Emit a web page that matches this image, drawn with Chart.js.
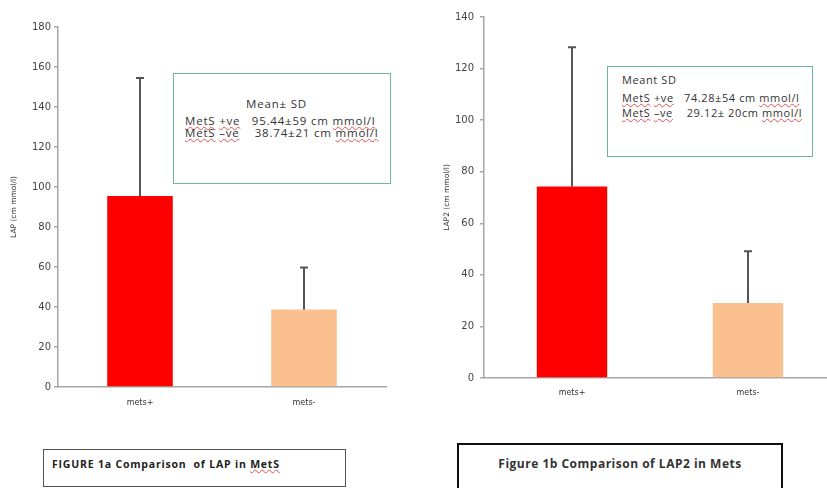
<!DOCTYPE html>
<html>
<head>
<meta charset="utf-8">
<script src="https://cdn.jsdelivr.net/npm/chart.js@4/dist/chart.umd.min.js"></script>
<style>
  html, body { margin: 0; padding: 0; background: #fff; }
  body { width: 827px; height: 488px; overflow: hidden; position: relative; font-family: "Open Sans", Lato, sans-serif; }
  canvas { position: absolute; }
  .box { position: absolute; box-sizing: border-box; background: #fff; color: #333; }
  .wavy { text-decoration: underline wavy #e05050; text-decoration-thickness: 1px; text-underline-offset: 1px; }
  .line { white-space: pre; position: absolute; line-height: 13px; }
</style>
</head>
<body>
<canvas id="c1" width="400" height="420" style="left:0;top:0;"></canvas>
<canvas id="c2" width="430" height="410" style="left:420px;top:0;"></canvas>

<div class="box" style="left:173px;top:73px;width:218px;height:111px;border:1.5px solid #6bb89c;font-size:11.5px;letter-spacing:0.8px;">
  <div class="line" style="left:0;width:205px;text-align:center;top:23px;">Mean± SD</div>
  <div class="line" style="left:11px;top:40px;"><span class="wavy">MetS</span> <span class="wavy">+ve</span>   95.44±59 cm <span class="wavy">mmol/l</span></div>
  <div class="line" style="left:11px;top:52px;"><span class="wavy">MetS</span> <span class="wavy">–ve</span>    38.74±21 cm <span class="wavy">mmol/l</span></div>
</div>

<div class="box" style="left:607px;top:66px;width:206px;height:91px;border:1.5px solid #6bb89c;font-size:11px;letter-spacing:0.6px;">
  <div class="line" style="left:14px;top:6px;">Meant SD</div>
  <div class="line" style="left:14px;top:24px;"><span class="wavy">MetS</span> <span class="wavy">+ve</span>   74.28±54 cm <span class="wavy">mmol/l</span></div>
  <div class="line" style="left:14px;top:39px;"><span class="wavy">MetS</span> <span class="wavy">–ve</span>    29.12± 20cm <span class="wavy">mmol/l</span></div>
</div>

<div class="box" style="left:43px;top:449px;width:303px;height:38px;border:1.5px solid #555;font-size:10.5px;font-weight:bold;color:#222;letter-spacing:0.8px;">
  <div class="line" style="left:8px;top:8px;">FIGURE 1a Comparison  of LAP in <span class="wavy">MetS</span></div>
</div>

<div class="box" style="left:457px;top:443px;width:326px;height:60px;border:2px solid #111;font-size:12px;font-weight:bold;color:#333;letter-spacing:0.5px;">
  <div class="line" style="left:0;width:322px;text-align:center;top:12px;">Figure 1b Comparison of LAP2 in Mets</div>
</div>

<script>
const categories = ['mets+', 'mets-'];
const lapMeans = [95.44, 38.74];
const lapSD = [59, 21];
const lap2Means = [74.28, 29.12];
const lap2SD = [54, 20];
const barColors = ['#ff0000', '#fac090'];
const lapAxisMax = 180;
const lap2AxisMax = 140;
const tickStep = 20;

Chart.defaults.animation = false;
const FONT = "'DejaVu Sans', Verdana, sans-serif";

const errorBars = {
  id: 'errorBars',
  afterDatasetsDraw(chart, args, opts) {
    const ctx = chart.ctx;
    const meta = chart.getDatasetMeta(0);
    const yScale = chart.scales.y;
    const sd = opts.sd;
    const means = chart.data.datasets[0].data;
    ctx.save();
    ctx.strokeStyle = '#555';
    ctx.lineWidth = 2;
    meta.data.forEach((bar, i) => {
      const yTop = yScale.getPixelForValue(means[i] + sd[i]);
      ctx.beginPath();
      ctx.moveTo(bar.x, bar.y);
      ctx.lineTo(bar.x, yTop);
      ctx.moveTo(bar.x - 4, yTop);
      ctx.lineTo(bar.x + 4, yTop);
      ctx.stroke();
    });
    ctx.restore();
  }
};

function makeChart(id, means, sd, max, yTitle, yWidth, xHeight, pad, tickPad, titlePad, xPad) {
  return new Chart(document.getElementById(id), {
    type: 'bar',
    data: {
      labels: categories,
      datasets: [{ data: means, backgroundColor: barColors, borderWidth: 0,
        categoryPercentage: 0.8, barPercentage: 0.5 }]
    },
    options: {
      responsive: false,
      devicePixelRatio: 1,
      layout: { padding: pad },
      plugins: { legend: { display: false }, tooltip: { enabled: false }, errorBars: { sd: sd } },
      scales: {
        x: {
          grid: { display: false, drawTicks: false },
          border: { display: true, color: '#a6a6a6', width: 1.5 },
          ticks: { color: '#333', font: { family: FONT, size: 8 }, padding: xPad },
          afterFit(s) { s.height = xHeight; }
        },
        y: {
          min: 0, max: max,
          ticks: { stepSize: tickStep, color: '#444', font: { family: FONT, size: 10 }, padding: tickPad },
          grid: { drawOnChartArea: false, drawTicks: true, tickLength: 4, color: '#a6a6a6', lineWidth: 1.5 },
          border: { display: true, color: '#a6a6a6', width: 1.5 },
          title: { display: true, text: yTitle, color: '#333', font: { family: FONT, size: 7.5 }, padding: { top: titlePad, bottom: 0 } },
          afterFit(s) { s.width = yWidth; }
        }
      }
    },
    plugins: [errorBars]
  });
}

makeChart('c1', lapMeans, lapSD, lapAxisMax, 'LAP (cm mmol/l)', 58, 33, { top: 27, right: 14, left: 0, bottom: 0 }, 3, 10, 11);
makeChart('c2', lap2Means, lap2SD, lap2AxisMax, 'LAP2 (cm mmol/l)', 64, 32, { top: 17, right: 14, left: 0, bottom: 0 }, 6, 23, 10);
</script>
</body>
</html>
